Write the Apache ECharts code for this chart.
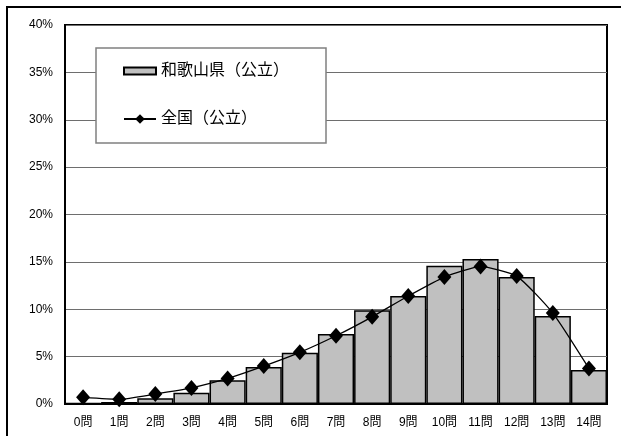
<!DOCTYPE html>
<html>
<head>
<meta charset="utf-8">
<script src="https://cdn.jsdelivr.net/npm/echarts@6/dist/echarts.min.js"></script>
<style>
  html, body { margin: 0; padding: 0; background: #fff; }
  #chart { width: 621px; height: 436px; }
</style>
</head>
<body>
<div id="chart"></div>
<script>
const categories = ['0問', '1問', '2問', '3問', '4問', '5問', '6問', '7問', '8問', '9問', '10問', '11問', '12問', '13問', '14問'];
// percent values
const wakayama = [0.1, 0.2, 0.6, 1.2, 2.5, 3.9, 5.4, 7.4, 9.9, 11.4, 14.6, 15.3, 13.4, 9.3, 3.6];
const zenkoku = [0.7, 0.5, 1.05, 1.7, 2.7, 4.0, 5.45, 7.2, 9.2, 11.4, 13.4, 14.5, 13.5, 9.6, 3.75];
const yTicks = [0, 5, 10, 15, 20, 25, 30, 35, 40];

const FONT = '"Liberation Sans", "Noto Sans CJK JP", sans-serif';

const chart = echarts.init(document.getElementById('chart'), null, { renderer: 'canvas' });

const option = {
    animation: false,
    backgroundColor: '#fff',
    textStyle: { fontFamily: FONT, color: '#000' },
    grid: {
        left: 65, top: 25, right: 14, bottom: 32,
        show: true, borderColor: '#000', borderWidth: 2
    },
    graphic: [
        {
            type: 'rect', z: 0,
            shape: { x: 7, y: 7, width: 700, height: 500 },
            style: { fill: null, stroke: '#000', lineWidth: 2 }
        },
        {
            type: 'rect', z: 10,
            shape: { x: 96, y: 48, width: 230, height: 95 },
            style: { fill: '#fff', stroke: '#808080', lineWidth: 1.5 }
        }
    ],
    legend: [
        {
            z: 20, left: 123, top: 63, padding: 0,
            data: [{ name: '和歌山県（公立）', icon: 'rect' }],
            itemWidth: 32, itemHeight: 7, itemGap: 4,
            textStyle: { fontSize: 16, fontFamily: FONT, color: '#000' }
        },
        {
            z: 20, left: 123, top: 111, padding: 0,
            data: ['全国（公立）'],
            itemWidth: 32, itemHeight: 12, itemGap: 4,
            textStyle: { fontSize: 16, fontFamily: FONT, color: '#000' }
        }
    ],
    xAxis: {
        type: 'category',
        data: categories,
        axisTick: { show: false },
        axisLine: { lineStyle: { color: '#000', width: 2 } },
        axisLabel: { fontSize: 12, color: '#000', margin: 13, fontFamily: FONT, interval: 0 }
    },
    yAxis: {
        type: 'value',
        min: yTicks[0], max: yTicks[yTicks.length - 1], interval: 5,
        axisLine: { show: true, lineStyle: { color: '#000', width: 2 } },
        axisTick: { show: false },
        axisLabel: { fontSize: 12, color: '#000', margin: 12, fontFamily: FONT, formatter: '{value}%' },
        splitLine: { lineStyle: { color: '#6e6e6e', width: 1.2 } }
    },
    series: [
        {
            name: '和歌山県（公立）',
            type: 'bar',
            data: wakayama,
            barCategoryGap: '0%',
            itemStyle: { color: '#c0c0c0', borderColor: '#000', borderWidth: 1.5 }
        },
        {
            name: '全国（公立）',
            type: 'line',
            data: zenkoku,
            smooth: 0.18,
            symbol: 'diamond',
            symbolSize: [14, 16],
            itemStyle: { color: '#000' },
            lineStyle: { color: '#000', width: 1.3 },
            z: 5
        }
    ]
};

chart.setOption(option);
</script>
</body>
</html>
